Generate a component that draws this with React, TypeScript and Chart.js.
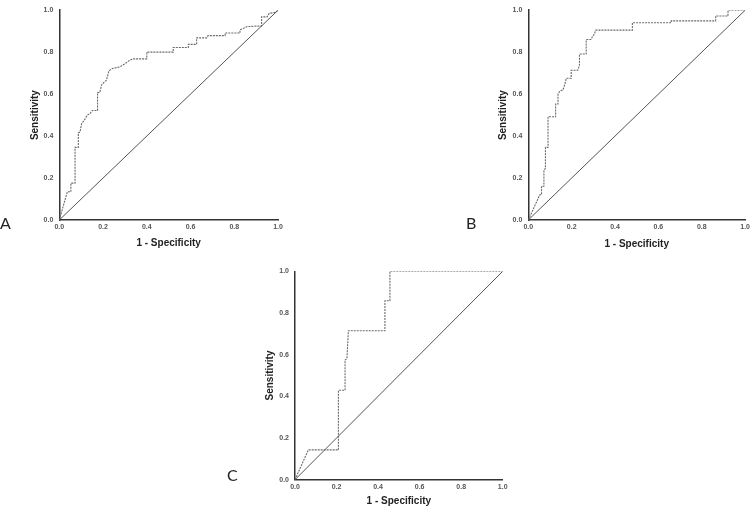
import React, { useEffect, useRef } from "react";
import { Chart, registerables } from "chart.js";

Chart.register(...registerables);

// ---- data ----
const tickStep = 0.2;
const xTitle = "1 - Specificity";
const yTitle = "Sensitivity";
const panelLabels = ["A", "B", "C"];

const diagonalFpr = [0, 1];
const diagonalTpr = [0, 1];

const rocAFpr = [0, 0.03, 0.037, 0.053, 0.053, 0.072, 0.072, 0.087, 0.087, 0.095, 0.102, 0.115, 0.127, 0.14, 0.151, 0.175, 0.175, 0.185, 0.194, 0.209, 0.215, 0.227, 0.242, 0.278, 0.3, 0.32, 0.338, 0.4, 0.4, 0.521, 0.521, 0.59, 0.59, 0.628, 0.628, 0.674, 0.68, 0.758, 0.758, 0.826, 0.826, 0.86, 0.925, 0.925, 0.95, 0.96, 0.99, 1];
const rocATpr = [0, 0.11, 0.135, 0.135, 0.176, 0.176, 0.346, 0.346, 0.415, 0.42, 0.46, 0.476, 0.499, 0.507, 0.522, 0.522, 0.608, 0.608, 0.645, 0.661, 0.665, 0.711, 0.722, 0.73, 0.745, 0.76, 0.768, 0.768, 0.8, 0.8, 0.822, 0.822, 0.837, 0.837, 0.868, 0.868, 0.879, 0.879, 0.891, 0.891, 0.906, 0.922, 0.925, 0.968, 0.968, 0.985, 0.99, 1];

const rocBFpr = [0, 0.053, 0.061, 0.061, 0.072, 0.072, 0.079, 0.079, 0.091, 0.091, 0.126, 0.126, 0.137, 0.137, 0.145, 0.16, 0.168, 0.175, 0.198, 0.198, 0.228, 0.236, 0.236, 0.267, 0.267, 0.289, 0.297, 0.304, 0.311, 0.48, 0.48, 0.659, 0.659, 0.864, 0.864, 0.921, 0.921, 1];
const rocBTpr = [0, 0.12, 0.12, 0.161, 0.161, 0.238, 0.246, 0.346, 0.346, 0.492, 0.492, 0.553, 0.553, 0.599, 0.614, 0.62, 0.645, 0.676, 0.676, 0.714, 0.714, 0.737, 0.791, 0.791, 0.86, 0.86, 0.876, 0.885, 0.905, 0.905, 0.94, 0.94, 0.949, 0.949, 0.972, 0.972, 1, 1];

const rocCFpr = [0, 0.064, 0.209, 0.209, 0.241, 0.241, 0.25, 0.257, 0.433, 0.433, 0.457, 0.457, 1];
const rocCTpr = [0, 0.143, 0.143, 0.429, 0.429, 0.574, 0.58, 0.715, 0.715, 0.859, 0.859, 1, 1];

type Geo = {
  left: number; top: number; width: number; height: number;
  padTop: number; padRight: number;
  yScaleWidth: number; xScaleHeight: number;
  xTitlePad: number; yTitlePad: number;
};

const geoA: Geo = { left: 0, top: 0, width: 290, height: 252, padTop: 3, padRight: 12, yScaleWidth: 59.3, xScaleHeight: 32, xTitlePad: 2.7, yTitlePad: 29 };
const geoB: Geo = { left: 460, top: 0, width: 293, height: 252, padTop: 3, padRight: 5.7, yScaleWidth: 68.3, xScaleHeight: 32, xTitlePad: 1.7, yTitlePad: 37.3 };
const geoC: Geo = { left: 220, top: 240, width: 300, height: 268, padTop: 31.3, padRight: 17.3, yScaleWidth: 75, xScaleHeight: 28.3, xTitlePad: 0.3, yTitlePad: 44.7 };

const toPoints = (xs: number[], ys: number[]) => xs.map((x, i) => ({ x, y: ys[i] }));

function RocPanel({ fpr, tpr, geo }: { fpr: number[]; tpr: number[]; geo: Geo }) {
  const ref = useRef<HTMLCanvasElement | null>(null);
  useEffect(() => {
    if (!ref.current) return;
    const tickFont = { family: "'Liberation Sans', Arial, sans-serif", size: 7, weight: "bold" as const };
    const titleFont = { family: "'Liberation Sans', Arial, sans-serif", size: 10, weight: "bold" as const };
    const chart = new Chart(ref.current, {
      type: "scatter",
      data: {
        datasets: [
          {
            data: toPoints(diagonalFpr, diagonalTpr),
            showLine: true,
            borderColor: "#555555",
            borderWidth: 1,
            pointRadius: 0,
          },
          {
            data: toPoints(fpr, tpr),
            showLine: true,
            borderColor: "#6a6a6a",
            borderWidth: 1.1,
            borderDash: [2, 1],
            pointRadius: 0,
          },
        ],
      },
      options: {
        animation: false,
        responsive: false,
        events: [],
        layout: { autoPadding: false, padding: { left: 0, right: geo.padRight, top: geo.padTop, bottom: 0 } },
        plugins: { legend: { display: false }, tooltip: { enabled: false } },
        scales: {
          x: {
            type: "linear",
            min: 0,
            max: 1,
            afterFit: (s: any) => { s.height = geo.xScaleHeight; },
            grid: { display: false, drawTicks: false },
            border: { display: true, color: "#333333", width: 1.5 },
            ticks: {
              stepSize: tickStep,
              padding: 3,
              maxRotation: 0,
              autoSkip: false,
              font: tickFont,
              color: "#555555",
              callback: (v: any) => Number(v).toFixed(1),
            },
            title: { display: true, text: xTitle, font: titleFont, color: "#222222", padding: { top: 0, bottom: geo.xTitlePad } },
          },
          y: {
            type: "linear",
            min: 0,
            max: 1,
            afterFit: (s: any) => { s.width = geo.yScaleWidth; },
            grid: { display: false, drawTicks: false },
            border: { display: true, color: "#333333", width: 1.5 },
            ticks: {
              stepSize: tickStep,
              padding: 6,
              autoSkip: false,
              font: tickFont,
              color: "#555555",
              callback: (v: any) => Number(v).toFixed(1),
            },
            title: { display: true, text: yTitle, font: titleFont, color: "#222222", padding: { top: geo.yTitlePad, bottom: 0 } },
          },
        },
      } as any,
    });
    return () => chart.destroy();
  }, [fpr, tpr, geo]);
  return (
    <canvas
      ref={ref}
      width={geo.width}
      height={geo.height}
      style={{ position: "absolute", left: geo.left, top: geo.top, width: geo.width, height: geo.height }}
    />
  );
}

const labelStyle = (left: number, top: number): React.CSSProperties => ({
  position: "absolute",
  left,
  top,
  fontFamily: "Lato, 'Open Sans', sans-serif",
  fontSize: 16,
  lineHeight: "16px",
  color: "#222222",
});

export default function App() {
  return (
    <div style={{ position: "absolute", left: 0, top: 0, width: 753, height: 508, background: "#ffffff", overflow: "hidden" }}>
      <RocPanel fpr={rocAFpr} tpr={rocATpr} geo={geoA} />
      <RocPanel fpr={rocBFpr} tpr={rocBTpr} geo={geoB} />
      <RocPanel fpr={rocCFpr} tpr={rocCTpr} geo={geoC} />
      <div style={labelStyle(0, 214.5)}>{panelLabels[0]}</div>
      <div style={labelStyle(466, 215)}>{panelLabels[1]}</div>
      <div style={labelStyle(227, 466.5)}>{panelLabels[2]}</div>
    </div>
  );
}
